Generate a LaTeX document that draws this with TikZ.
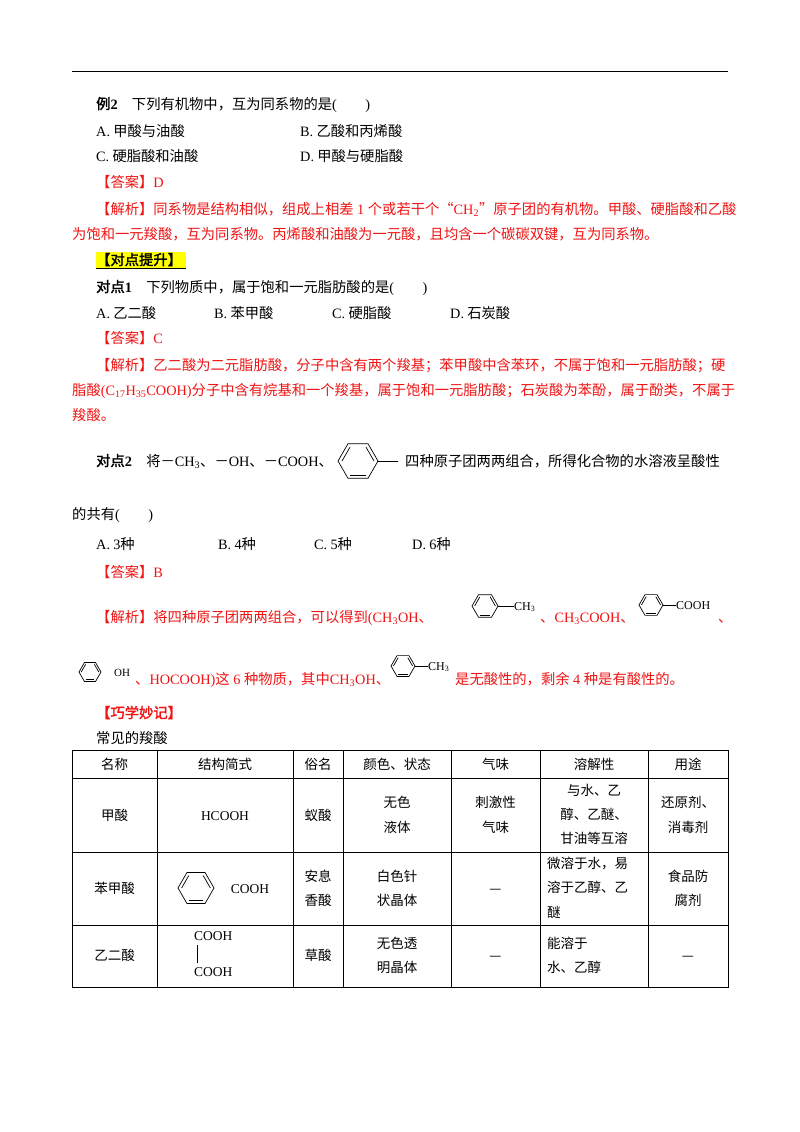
\documentclass[tikz,border=0pt]{standalone}
\usepackage{fontspec}
\setmainfont{Noto Sans CJK SC}
\newfontfamily\latf{Liberation Serif}
\newfontfamily\cjkb{Noto Sans CJK SC}[FakeBold=2]
\newcommand{\lat}[1]{{\latf #1}}
\newcommand{\sbs}[1]{\textsubscript{#1}}
\definecolor{ansred}{RGB}{240,20,20}
\definecolor{hl}{RGB}{255,255,0}
\tikzset{
  txt/.style={anchor=base west,inner sep=0pt,font=\fontsize{14.3}{15}\selectfont},
  red/.style={txt,text=ansred},
  cell/.style={anchor=base,inner sep=0pt,font=\fontsize{13.5}{14}\selectfont},
  cellw/.style={anchor=base west,inner sep=0pt,font=\fontsize{13.5}{14}\selectfont},
  bond/.style={line width=0.7pt},
}
\usetikzlibrary{calc}
% benzene: center, radius (flat top/bottom)
\newcommand{\benz}[3]{%
  \begin{scope}[shift={(#1,#2)}]
    \draw[bond] (0:#3)--(60:#3)--(120:#3)--(180:#3)--(240:#3)--(300:#3)--cycle;
    \draw[bond] ($(60:#3)!0.2!(0,0)$)--($(120:#3)!0.2!(0,0)$);
    \draw[bond] ($(180:#3)!0.2!(0,0)$)--($(240:#3)!0.2!(0,0)$);
    \draw[bond] ($(300:#3)!0.2!(0,0)$)--($(0:#3)!0.2!(0,0)$);
  \end{scope}}
\begin{document}
\begin{tikzpicture}[x=1pt,y=-1pt]
\useasboundingbox (0,0) rectangle (800,1132);
\fill[white] (0,0) rectangle (800,1132);
\draw[line width=1pt] (72,72) coordinate (r1) -- (728,72) coordinate (r2);

\node[txt] (e2) at (96,109) {{\cjkb 例\lat{\textbf{2}}}\quad 下列有机物中，互为同系物的是\lat{(\qquad)}};
\node[txt] (e2a) at (96,136) {\lat{A.} 甲酸与油酸};
\node[txt] (e2b) at (300,136) {\lat{B.} 乙酸和丙烯酸};
\node[txt] (e2c) at (96,161) {\lat{C.} 硬脂酸和油酸};
\node[txt] (e2d) at (300,161) {\lat{D.} 甲酸与硬脂酸};
\node[red] (e2ans) at (96,187) {【答案】\lat{D}};
\node[red] (e2j1) at (96,214) {【解析】同系物是结构相似，组成上相差\lat{ 1 }个或若干个“\lat{CH\sbs{2}}”原子团的有机物。甲酸、硬脂酸和乙酸};
\node[red] (e2j2) at (72,239) {为饱和一元羧酸，互为同系物。丙烯酸和油酸为一元酸，且均含一个碳碳双键，互为同系物。};

\fill[hl] (96,252) rectangle (186,268);
\draw (96,268.5) -- (186,268.5);
\node[txt] (ts) at (96,265) {\cjkb 【对点提升】};

\node[txt] (d1) at (96,292) {{\cjkb 对点\lat{\textbf{1}}}\quad 下列物质中，属于饱和一元脂肪酸的是\lat{(\qquad)}};
\node[txt] (d1a) at (96,318) {\lat{A.} 乙二酸};
\node[txt] (d1b) at (214,318) {\lat{B.} 苯甲酸};
\node[txt] (d1c) at (332,318) {\lat{C.} 硬脂酸};
\node[txt] (d1d) at (450,318) {\lat{D.} 石炭酸};
\node[red] (d1ans) at (96,343) {【答案】\lat{C}};
\node[red] (d1j1) at (96,370) {【解析】乙二酸为二元脂肪酸，分子中含有两个羧基；苯甲酸中含苯环，不属于饱和一元脂肪酸；硬};
\node[red] (d1j2) at (72,395) {脂酸\lat{(C\sbs{17}H\sbs{35}COOH)}分子中含有烷基和一个羧基，属于饱和一元脂肪酸；石炭酸为苯酚，属于酚类，不属于};
\node[red] (d1j3) at (72,420) {羧酸。};

\node[txt] (d2) at (96,466) {{\cjkb 对点\lat{\textbf{2}}}\quad 将－\lat{CH\sbs{3}}、－\lat{OH}、－\lat{COOH}、};
\benz{358}{461}{20}
\draw[bond] (378,461) -- (398,461);
\node[txt] (d2b) at (405,466) {四种原子团两两组合，所得化合物的水溶液呈酸性};
\node[txt] (d2c) at (72,519) {的共有\lat{(\qquad)}};
\node[txt] (d2oa) at (96,549) {\lat{A.} \lat{3}种};
\node[txt] (d2ob) at (218,549) {\lat{B.} \lat{4}种};
\node[txt] (d2oc) at (314,549) {\lat{C.} \lat{5}种};
\node[txt] (d2od) at (412,549) {\lat{D.} \lat{6}种};
\node[red] (d2ans) at (96,577) {【答案】\lat{B}};
\node[red] (d2j1) at (96,622) {【解析】将四种原子团两两组合，可以得到\lat{(CH\sbs{3}OH}、};
\benz{485}{606}{13}
\draw[bond] (498,606) -- (514,606);
\node[txt,font=\fontsize{12}{12}\selectfont] (m1) at (514,610) {\lat{CH\sbs{3}}};
\node[red] (d2j1b) at (540,622) {、\lat{CH\sbs{3}COOH}、};
\benz{651}{605}{12}
\draw[bond] (663,605) -- (676,605);
\node[txt,font=\fontsize{12}{12}\selectfont] (m2) at (676,609) {\lat{COOH}};
\node[red] (d2j1c) at (718,622) {、};
\benz{90}{672}{11}
\node[txt,font=\fontsize{11}{12}\selectfont] (m3) at (114,676) {\lat{OH}};
\node[red] (d2j2) at (135,684) {、\lat{HOCOOH)}这\lat{ 6 }种物质，其中\lat{CH\sbs{3}OH}、};
\benz{403}{666}{12}
\draw[bond] (415,666) -- (428,666);
\node[txt,font=\fontsize{12}{12}\selectfont] (m4) at (428,670) {\lat{CH\sbs{3}}};
\node[red] (d2j2b) at (455,684) {是无酸性的，剩余\lat{ 4 }种是有酸性的。};

\node[txt,text=ansred] (qx) at (96,718) {\cjkb 【巧学妙记】};
\node[txt] (cj) at (96,743) {常见的羧酸};

% table
\draw[line width=0.6pt] (72,750) rectangle (728,987);
\foreach \y in {778,852,925} \draw[line width=0.6pt] (72,\y) -- (728,\y);
\foreach \x in {157,293,343,451,540,648} \draw[line width=0.6pt] (\x,750) -- (\x,987);
\node[cell] (h1) at (114.5,769) {名称};
\node[cell] (h2) at (225,769) {结构简式};
\node[cell] (h3) at (318,769) {俗名};
\node[cell] (h4) at (397,769) {颜色、状态};
\node[cell] (h5) at (495.5,769) {气味};
\node[cell] (h6) at (594,769) {溶解性};
\node[cell] (h7) at (688,769) {用途};
% row 1
\node[cell] (a1) at (114.5,820) {甲酸};
\node[cell] (a2) at (225,820) {\lat{HCOOH}};
\node[cell] (a3) at (318,820) {蚁酸};
\node[cell] (a4) at (397,807) {无色};
\node[cell] (a4b) at (397,832) {液体};
\node[cell] (a5) at (495.5,807) {刺激性};
\node[cell] (a5b) at (495.5,832) {气味};
\node[cell] (a6) at (594,795) {与水、乙};
\node[cell] (a6b) at (594,819) {醇、乙醚、};
\node[cell] (a6c) at (594,843) {甘油等互溶};
\node[cell] (a7) at (688,807) {还原剂、};
\node[cell] (a7b) at (688,832) {消毒剂};
% row 2
\node[cell] (b1) at (114.5,893) {苯甲酸};
\benz{196}{888}{18}
\node[cell] (b2) at (250,893) {\lat{COOH}};
\node[cell] (b3) at (318,881) {安息};
\node[cell] (b3b) at (318,905) {香酸};
\node[cell] (b4) at (397,881) {白色针};
\node[cell] (b4b) at (397,905) {状晶体};
\node[cell] (b5) at (495.5,893) {—};
\node[cellw] (b6) at (547,868) {微溶于水，易};
\node[cellw] (b6b) at (547,892) {溶于乙醇、乙};
\node[cellw] (b6c) at (547,917) {醚};
\node[cell] (b7) at (688,881) {食品防};
\node[cell] (b7b) at (688,905) {腐剂};
% row 3
\node[cell] (c1) at (114.5,960) {乙二酸};
\node[cellw] (c2) at (194,940) {\lat{COOH}};
\draw (197,945) -- (197,963);
\node[cellw] (c2b) at (194,976) {\lat{COOH}};
\node[cell] (c3) at (318,960) {草酸};
\node[cell] (c4) at (397,948) {无色透};
\node[cell] (c4b) at (397,972) {明晶体};
\node[cell] (c5) at (495.5,960) {—};
\node[cellw] (c6) at (547,948) {能溶于};
\node[cellw] (c6b) at (547,972) {水、乙醇};
\node[cell] (c7) at (688,960) {—};
\end{tikzpicture}
\end{document}
